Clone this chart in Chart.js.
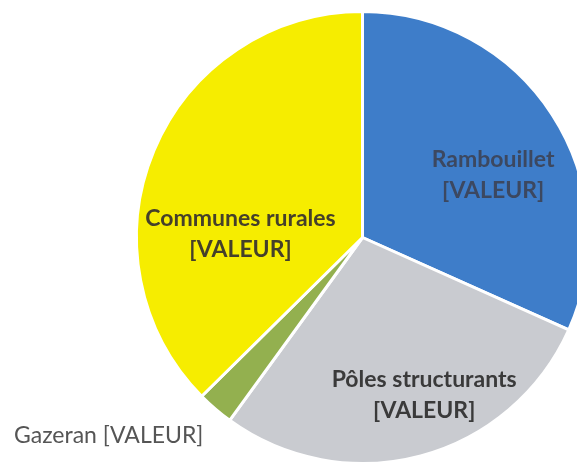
<!DOCTYPE html>
<html lang="fr">
<head>
    <meta charset="UTF-8">
    <title>Répartition</title>
    <script src="https://cdn.jsdelivr.net/npm/chart.js"></script>
    <style>
        html, body { margin: 0; padding: 0; background: #fff; overflow: hidden; }
        #wrap { position: absolute; left: 0; top: 0; }
    </style>
</head>
<body>
    <div id="wrap">
        <canvas id="pieChart" width="600" height="476"></canvas>
    </div>

    <script>
        // catégories et parts (%)
        const categories = ['Rambouillet', 'Pôles structurants', 'Gazeran', 'Communes rurales'];
        const values = [31.7, 28.3, 2.6, 37.4];
        const valueLabel = '[VALEUR]';
        const colors = ['#3e7dc9', '#c9cbd0', '#93b04f', '#f6ed00'];

        // placement des étiquettes : fraction du rayon, décalage d'angle (deg), une ou deux lignes
        const labelLayout = [
            { f: 0.64, da: 7.5, inline: false, bold: true, color: '#3c4860', align: 'center' },
            { f: 0.75, da: -6.4, inline: false, bold: true, color: '#3a3a3a', align: 'center' },
            { f: 1.124, da: -1.9, inline: true, bold: false, color: '#555555', align: 'right' },
            { f: 0.54, da: -21.3, inline: false, bold: true, color: '#45402a', align: 'center' }
        ];

        const sliceLabels = {
            id: 'sliceLabels',
            afterDatasetsDraw(chart) {
                const ctx = chart.ctx;
                const meta = chart.getDatasetMeta(0);
                meta.data.forEach(function(arc, i) {
                    const p = arc.getProps(['x', 'y', 'startAngle', 'endAngle', 'outerRadius'], true);
                    const lay = labelLayout[i];
                    const a = (p.startAngle + p.endAngle) / 2 + lay.da * Math.PI / 180;
                    const x = p.x + Math.cos(a) * p.outerRadius * lay.f;
                    const y = p.y + Math.sin(a) * p.outerRadius * lay.f;
                    ctx.save();
                    ctx.font = (lay.bold ? 'bold ' : '') + '23px Lato, "Open Sans", sans-serif';
                    ctx.fillStyle = lay.color;
                    ctx.textAlign = lay.align;
                    ctx.textBaseline = 'middle';
                    if (lay.inline) {
                        ctx.fillText(categories[i] + ' ' + valueLabel, x, y);
                    } else {
                        ctx.fillText(categories[i], x, y - 15.5);
                        ctx.fillText(valueLabel, x, y + 15.5);
                    }
                    ctx.restore();
                });
            }
        };

        const data = {
            labels: categories,
            datasets: [{
                data: values,
                backgroundColor: colors,
                borderColor: '#ffffff',
                borderWidth: 3
            }]
        };

        const config = {
            type: 'pie',
            data: data,
            options: {
                responsive: false,
                animation: false,
                layout: {
                    padding: { left: 135, top: 10, right: 10, bottom: 11 }
                },
                plugins: {
                    legend: { display: false },
                    tooltip: { enabled: false }
                }
            },
            plugins: [sliceLabels]
        };

        const ctx = document.getElementById('pieChart').getContext('2d');
        new Chart(ctx, config);
    </script>
</body>
</html>
